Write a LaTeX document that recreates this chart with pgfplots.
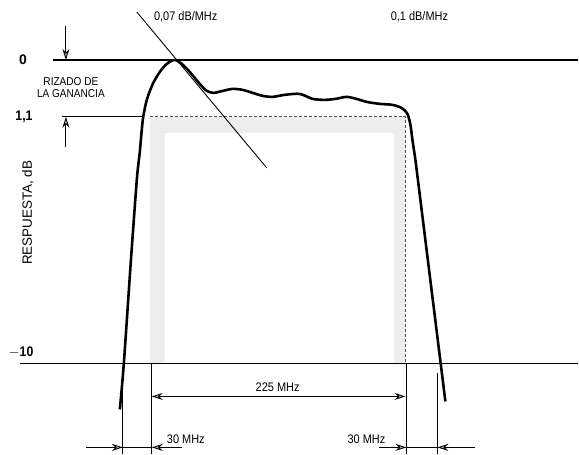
\documentclass[border=0pt]{standalone}
\usepackage{pgfplots}
\pgfplotsset{compat=1.18}
\usepackage{fontspec}
\setmainfont{Liberation Sans}
\newfontfamily\cond[FakeStretch=0.88]{Liberation Sans}
\usetikzlibrary{arrows.meta}
\begin{document}
\begin{tikzpicture}[
  arr/.style={-{Stealth[length=11pt,width=7pt,fill=gray!55]}, line width=0.9pt},
  lbl/.style={font=\cond\fontsize{12.5}{14}\selectfont, inner sep=0pt}]
\begin{axis}[
  width=579bp, height=455bp, scale only axis,
  xmin=0, xmax=579, ymin=0, ymax=455, y dir=reverse,
  hide axis, clip=false]
% bounding
\addplot[draw=none] coordinates {(0,0) (579,455)};
% stippled frame (inverted U)
\addplot[fill=gray!14, draw=none, even odd rule] coordinates {
  (150,117) (406,117) (406,364) (150,364) (150,117)
  (165,133) (395,133) (395,364) (165,364) (165,133)};
\addplot[gray!60!black, densely dashed, line width=0.8pt] coordinates {(150,117) (406,117) (406,364)};
% reference lines
\addplot[black, line width=1.6pt] coordinates {(53,60) (579,60)};
\addplot[black, line width=1pt] coordinates {(62,117) (142,117)};
\addplot[black, line width=1.2pt] coordinates {(20,364) (579,364)};
% tangent 0.07 dB/MHz
\addplot[black, line width=0.9pt] coordinates {(137,12) (267,168)};
% response curve
\addplot[black, line width=2.6pt, smooth, tension=0.45] coordinates {
  (120,410) (124,364) (131,262) (137,180) (140,152) (143,120) (147,100)
  (153,84) (160,72) (167,64) (175,60) (182,64) (190,72) (200,84) (207,91)
  (214,93) (223,91) (233,89) (243,90) (253,93) (263,96) (273,97) (285,95)
  (300,94) (313,99) (325,100) (336,99) (347,97) (357,99) (367,102) (380,104)
  (393,105) (402,108) (408,114) (411,125) (413,140) (416,160)};
\addplot[black, line width=2.6pt] coordinates {(416,160) (446,402)};
% vertical dimension lines
\addplot[black, line width=0.9pt] coordinates {(123,374) (123,455)};
\addplot[black, line width=0.9pt] coordinates {(152,364) (152,455)};
\addplot[black, line width=0.9pt] coordinates {(407,364) (407,455)};
\addplot[black, line width=0.9pt] coordinates {(438,374) (438,455)};
% 225 MHz
\addplot[arr, {Stealth[length=11pt,width=7pt,fill=gray!55]}-{Stealth[length=11pt,width=7pt,fill=gray!55]}] coordinates {(152,397) (406,397)};
% 30 MHz arrows
\addplot[arr] coordinates {(86,448) (123,448)};
\addplot[black, line width=0.9pt] coordinates {(123,448) (152,448)};
\addplot[arr] coordinates {(182,448) (152,448)};
\addplot[arr] coordinates {(380,448) (407,448)};
\addplot[black, line width=0.9pt] coordinates {(407,448) (438,448)};
\addplot[arr] coordinates {(476,448) (438,448)};
% ripple arrows
\addplot[arr] coordinates {(66,26) (66,60)};
\addplot[arr] coordinates {(66,147) (66,117)};
% texts
\node[lbl] at (axis cs:186,17) {0,07 dB/MHz};
\node[lbl] at (axis cs:420,17) {0,1 dB/MHz};
\node[lbl] at (axis cs:278,388) {225 MHz};
\node[lbl, anchor=west] at (axis cs:167,440) {30 MHz};
\node[lbl, anchor=east] at (axis cs:386,440) {30 MHz};
\node[font=\cond\fontsize{11.5}{13}\selectfont, align=center, inner sep=0pt] at (axis cs:71,88) {RIZADO DE\\[-1pt]LA GANANCIA};
\node[font=\bfseries\fontsize{14}{16}\selectfont, inner sep=0pt] at (axis cs:23,60) {0};
\node[font=\bfseries\cond\fontsize{14}{16}\selectfont, inner sep=0pt] at (axis cs:24,117) {1,1};
\node[font=\bfseries\cond\fontsize{14}{16}\selectfont, inner sep=0pt] at (axis cs:21,353) {$-$10};
\node[font=\fontsize{13.5}{15}\selectfont, rotate=90, inner sep=0pt] at (axis cs:28,213) {RESPUESTA, dB};
\end{axis}
\end{tikzpicture}
\end{document}
